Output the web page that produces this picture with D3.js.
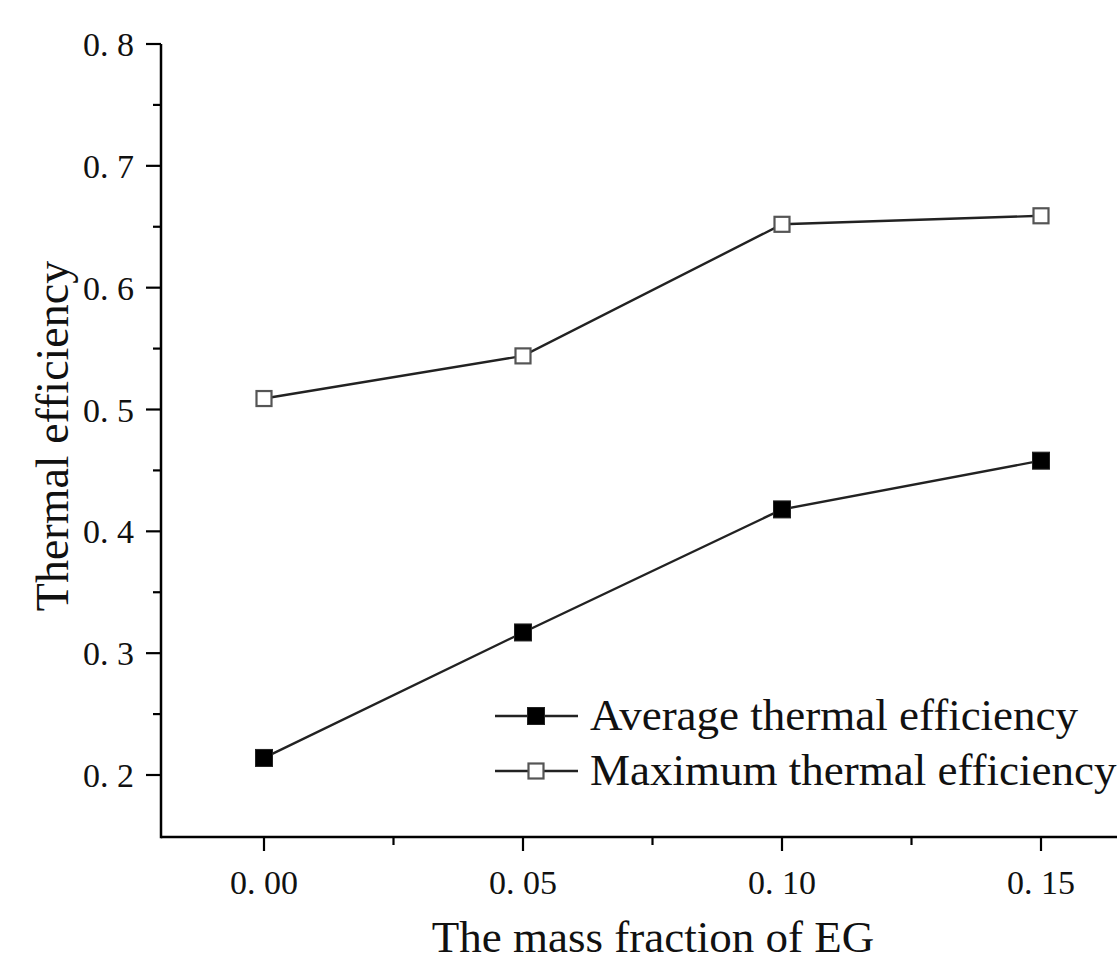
<!DOCTYPE html>
<html><head><meta charset="utf-8">
<script src="https://cdn.jsdelivr.net/npm/d3@7"></script>
<style>body{margin:0;background:#fff}svg{display:block}</style>
</head><body>
<svg id="c" width="1117" height="962"></svg>
<script>
const xValues = [0.00, 0.05, 0.10, 0.15];
const averageEff = [0.214, 0.317, 0.418, 0.458];
const maximumEff = [0.509, 0.544, 0.652, 0.659];
const seriesNames = ["Average thermal efficiency", "Maximum thermal efficiency"];
const xTicks = [0.00, 0.05, 0.10, 0.15];
const xTickLabels = ["0. 00", "0. 05", "0. 10", "0. 15"];
const xMinor = [0.025, 0.075, 0.125];
const yTicks = [0.2, 0.3, 0.4, 0.5, 0.6, 0.7, 0.8];
const yTickLabels = ["0. 2", "0. 3", "0. 4", "0. 5", "0. 6", "0. 7", "0. 8"];
const yMinor = [0.25, 0.35, 0.45, 0.55, 0.65, 0.75];
const xTitle = "The mass fraction of EG";
const yTitle = "Thermal efficiency";

const svg = d3.select("#c");
const L = 161, B = 837;
const xs = d3.scaleLinear().domain([0, 0.15]).range([264, 1041]);
const y = d3.scaleLinear().domain([0.2, 0.8]).range([775, 44]);
const font = "'Liberation Serif', 'DejaVu Serif', serif";

// axes lines
svg.append("line").attr("x1", L).attr("x2", 1117).attr("y1", B).attr("y2", B)
  .attr("stroke", "#000").attr("stroke-width", 2.5);
svg.append("line").attr("x1", L).attr("x2", L).attr("y1", y(0.8)).attr("y2", B + 1.2)
  .attr("stroke", "#000").attr("stroke-width", 2.5);

// x ticks
const gx = svg.append("g");
xTicks.forEach((v, i) => {
  gx.append("line").attr("x1", xs(v)).attr("x2", xs(v)).attr("y1", B).attr("y2", B + 14)
    .attr("stroke", "#000").attr("stroke-width", 2.2);
  gx.append("text").attr("x", xs(v)).attr("y", 894).attr("text-anchor", "middle")
    .attr("font-family", font).attr("font-size", 34).attr("fill", "#111").text(xTickLabels[i]);
});
xMinor.forEach(v => {
  gx.append("line").attr("x1", xs(v)).attr("x2", xs(v)).attr("y1", B).attr("y2", B + 8)
    .attr("stroke", "#000").attr("stroke-width", 2.2);
});
// y ticks
const gy = svg.append("g");
yTicks.forEach((v, i) => {
  gy.append("line").attr("x1", L - 15).attr("x2", L).attr("y1", y(v)).attr("y2", y(v))
    .attr("stroke", "#000").attr("stroke-width", 2.2);
  gy.append("text").attr("x", 134).attr("y", y(v) + 12).attr("text-anchor", "end")
    .attr("font-family", font).attr("font-size", 34).attr("fill", "#111").text(yTickLabels[i]);
});
yMinor.forEach(v => {
  gy.append("line").attr("x1", L - 8).attr("x2", L).attr("y1", y(v)).attr("y2", y(v))
    .attr("stroke", "#000").attr("stroke-width", 2.2);
});

// titles
svg.append("text").attr("x", 653).attr("y", 952).attr("text-anchor", "middle")
  .attr("font-family", font).attr("font-size", 45).attr("fill", "#111").text(xTitle);
svg.append("text").attr("transform", "translate(68,436) rotate(-90)").attr("text-anchor", "middle")
  .attr("font-family", font).attr("font-size", 46).attr("fill", "#111").text(yTitle);

// lines
const line = d3.line().x((d, i) => xs(xValues[i])).y(d => y(d));
[averageEff, maximumEff].forEach(s => {
  svg.append("path").attr("d", line(s)).attr("fill", "none").attr("stroke", "#222").attr("stroke-width", 2.4);
});
const sz = 17;
svg.selectAll(".avg").data(averageEff).enter().append("rect")
  .attr("x", (d, i) => xs(xValues[i]) - sz / 2).attr("y", d => y(d) - sz / 2)
  .attr("width", sz).attr("height", sz).attr("fill", "#000").attr("stroke", "#222").attr("stroke-width", 1);
svg.selectAll(".max").data(maximumEff).enter().append("rect")
  .attr("x", (d, i) => xs(xValues[i]) - (sz - 2) / 2).attr("y", d => y(d) - (sz - 2) / 2)
  .attr("width", sz - 2).attr("height", sz - 2).attr("fill", "#fff").attr("stroke", "#555").attr("stroke-width", 2.2);

// legend
const leg = [{name: seriesNames[0], fill: "#000", stroke: "#222", yy: 716},
             {name: seriesNames[1], fill: "#fff", stroke: "#555", yy: 771}];
leg.forEach(l => {
  svg.append("line").attr("x1", 495).attr("x2", 578).attr("y1", l.yy).attr("y2", l.yy)
    .attr("stroke", "#222").attr("stroke-width", 2.4);
  const s = l.fill === "#000" ? sz : sz - 2;
  svg.append("rect").attr("x", 536 - s / 2).attr("y", l.yy - s / 2).attr("width", s).attr("height", s)
    .attr("fill", l.fill).attr("stroke", l.stroke).attr("stroke-width", l.fill === "#000" ? 1 : 2.2);
  svg.append("text").attr("x", 590).attr("y", l.yy + 14).attr("font-family", font)
    .attr("font-size", 45).attr("fill", "#111").text(l.name);
});
</script>
</body></html>
